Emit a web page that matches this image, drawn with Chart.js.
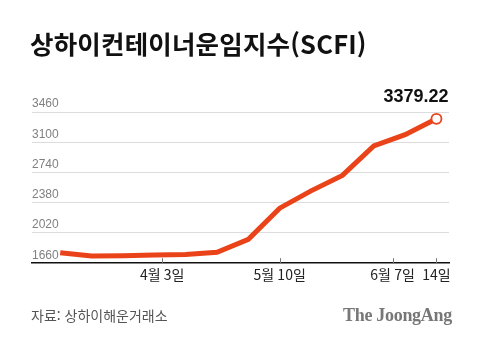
<!DOCTYPE html>
<html lang="ko">
<head>
<meta charset="utf-8">
<script src="https://cdn.jsdelivr.net/npm/chart.js@4"></script>
<style>
  html, body { margin: 0; padding: 0; background: #fff; }
  #wrap { position: relative; width: 480px; height: 343px; overflow: hidden; }
  #chart { position: absolute; left: 0; top: 0; }
  .title { position: absolute; left: 30px; top: 27px; font: 700 25.5px "Noto Sans CJK KR"; line-height: 32px; color: #111; letter-spacing: 0.2px; white-space: nowrap; }
  .source { position: absolute; left: 31px; top: 305px; font: 400 14px "Noto Sans CJK KR"; line-height: 20px; color: #555; }
  .logo { position: absolute; left: 343px; top: 304px; font: 700 18px "Liberation Serif"; line-height: 22px; color: #777; letter-spacing: -0.3px; }
</style>
</head>
<body>
<div id="wrap">
  <canvas id="chart" width="480" height="343"></canvas>
  <div class="title">상하이컨테이너운임지수(SCFI)</div>
  <div class="source">자료: 상하이해운거래소</div>
  <div class="logo">The JoongAng</div>
</div>
<script>
// 주간 SCFI
const dates = ["3월 15일", "3월 22일", "3월 29일", "4월 3일", "4월 12일", "4월 19일", "4월 26일",
  "5월 10일", "5월 17일", "5월 24일", "5월 31일", "6월 7일", "6월 14일"];
const scfi = [1785, 1745, 1750, 1757, 1765, 1790, 1945, 2315, 2521, 2705, 3055, 3190, 3379.22];

const yTicks = [1660, 2020, 2380, 2740, 3100, 3460];
// x 눈금 위치 (원본 그래픽의 눈금 자리, 인덱스 단위)
const xTickPos = [3.25, 7, 10.6, 12];
const xTickLabels = ["4월 3일", "5월 10일", "6월 7일", "14일"];

const lineColor = "#ea4319";
const last = scfi.length - 1;

// 축 위쪽으로 짧은 눈금
const innerTicks = {
  id: "innerTicks",
  afterDatasetsDraw(chart) {
    const { ctx, scales: { x }, chartArea } = chart;
    ctx.save();
    ctx.strokeStyle = "#777";
    ctx.lineWidth = 1;
    x.ticks.forEach(t => {
      const px = Math.round(x.getPixelForValue(t.value)) + 0.5;
      ctx.beginPath();
      ctx.moveTo(px, chartArea.bottom);
      ctx.lineTo(px, chartArea.bottom - 5);
      ctx.stroke();
    });
    ctx.restore();
  },
};

// 마지막 값 라벨
const lastLabel = {
  id: "lastLabel",
  afterDatasetsDraw(chart) {
    const pt = chart.getDatasetMeta(0).data[last];
    const ctx = chart.ctx;
    ctx.save();
    ctx.font = "bold 18px 'Liberation Sans'";
    ctx.fillStyle = "#111";
    ctx.textAlign = "right";
    ctx.textBaseline = "middle";
    ctx.fillText(scfi[last].toFixed(2), pt.x + 12, pt.y - 22);
    ctx.restore();
  },
};

new Chart(document.getElementById("chart"), {
  type: "line",
  data: {
    labels: dates,
    datasets: [
      {
        data: scfi.map((v, i) => ({ x: i, y: v })),
        borderColor: lineColor,
        borderWidth: 5,
        tension: 0,
        pointRadius: (c) => (c.dataIndex === last ? 5 : 0),
        pointBackgroundColor: "#fff",
        pointBorderColor: lineColor,
        pointBorderWidth: 1.8,
        clip: false,
      },
    ],
  },
  options: {
    responsive: false,
    animation: false,
    layout: { padding: { left: 32, right: 31, top: 112, bottom: 57 } },
    plugins: { legend: { display: false }, tooltip: { enabled: false } },
    scales: {
      x: {
        type: "linear",
        min: -0.9,
        max: 12.4,
        afterBuildTicks: (scale) => {
          scale.ticks = xTickPos.map(v => ({ value: v }));
        },
        grid: { display: false, drawTicks: false },
        border: { display: true, color: "#111", width: 1.5 },
        ticks: {
          autoSkip: false,
          maxRotation: 0,
          padding: 3,
          color: "#222",
          font: { family: "Noto Sans CJK KR", size: 14 },
          callback: (v, i) => xTickLabels[i],
        },
      },
      y: {
        min: 1660,
        max: 3460,
        afterBuildTicks: (scale) => {
          scale.ticks = yTicks.map(v => ({ value: v }));
        },
        grid: {
          drawTicks: false,
          color: (c) => (c.tick && c.tick.value === 1660 ? "rgba(0,0,0,0)" : "#dcdcdc"),
        },
        border: { display: false },
        ticks: {
          mirror: true,
          padding: 0,
          labelOffset: -8,
          color: "#808080",
          font: { family: "Liberation Sans", size: 12 },
          callback: (v) => String(v),
        },
      },
    },
  },
  plugins: [innerTicks, lastLabel],
});
</script>
</body>
</html>
